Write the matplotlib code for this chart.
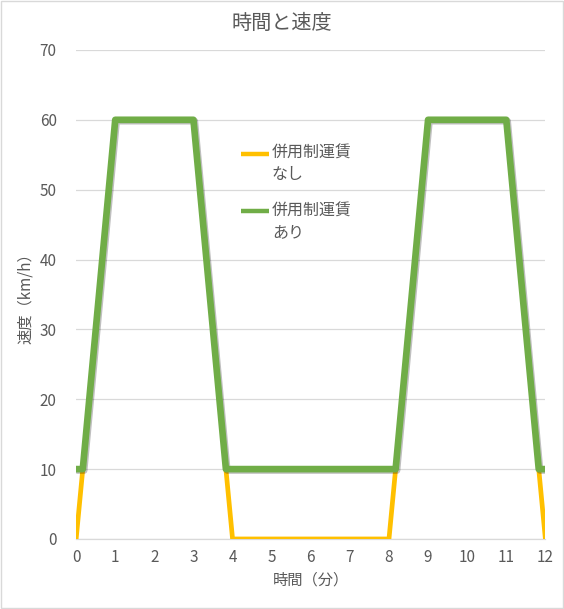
import matplotlib
matplotlib.use("Agg")
import matplotlib.pyplot as plt
from matplotlib.lines import Line2D
from matplotlib.patches import Rectangle
import matplotlib.patheffects as pe

plt.rcParams['font.family'] = ['Noto Sans CJK JP', 'DejaVu Sans']

title = "時間と速度"
xlabel = "時間（分）"
ylabel = "速度（km/h）"
series_names = ["併用制運賃\nなし", "併用制運賃\nあり"]

x_nashi = [0, 0.17, 1, 3, 3.83, 4, 8, 8.17, 9, 11, 11.83, 12]
y_nashi = [0, 10, 60, 60, 10, 0, 0, 10, 60, 60, 10, 0]

x_ari = [0, 0.17, 1, 3, 3.83, 8.17, 9, 11, 11.83, 12]
y_ari = [10, 10, 60, 60, 10, 10, 60, 60, 10, 10]

xticks = list(range(0, 13))
yticks = [0, 10, 20, 30, 40, 50, 60, 70]

c_yellow = "#FFC000"
c_green = "#70AD47"
txt = "#595959"
grid_c = "#D9D9D9"

fig = plt.figure(figsize=(5.64, 6.09), dpi=100)
fig.patches.append(Rectangle((0.002, 0.002), 0.996, 0.996, transform=fig.transFigure,
                             fill=False, edgecolor="#D9D9D9", linewidth=1.0))
ax = fig.add_axes([0.135, 0.115, 0.832, 0.803])

ax.plot(x_nashi, y_nashi, color=c_yellow, linewidth=3.4, solid_joinstyle='round',
        solid_capstyle='round', zorder=3)
ax.plot(x_ari, y_ari, color=c_green, linewidth=4.8, solid_joinstyle='round',
        solid_capstyle='round', zorder=4,
        path_effects=[pe.SimpleLineShadow(offset=(1, -1), shadow_color='#000000', alpha=0.25),
                      pe.Normal()])

ax.set_xlim(0, 12)
ax.set_ylim(0, 70)
ax.set_xticks(xticks)
ax.set_yticks(yticks)
ax.yaxis.grid(True, color=grid_c, linewidth=0.9)
ax.set_axisbelow(True)
for s in ['top', 'right', 'left']:
    ax.spines[s].set_visible(False)
ax.spines['bottom'].set_color(grid_c)
ax.spines['bottom'].set_linewidth(0.9)
ax.tick_params(axis='both', length=0, labelsize=11, labelcolor=txt)
ax.tick_params(axis='x', pad=7)
ax.tick_params(axis='y', pad=14)

ax.set_xlabel(xlabel, fontsize=11, color=txt, labelpad=4)
ax.set_ylabel(ylabel, fontsize=11, color=txt, labelpad=4)
fig.text(0.5, 0.961, title, ha='center', va='center', fontsize=14.5, color=txt)

# legend drawn manually (handle aligned with first text line)
leg_x0, leg_x1, leg_tx = 0.352, 0.412, 0.417
for name, col, yy in [(series_names[0], c_yellow, 0.788), (series_names[1], c_green, 0.670)]:
    ax.add_line(Line2D([leg_x0, leg_x1], [yy, yy], transform=ax.transAxes, color=col,
                       linewidth=3.2, solid_capstyle='butt'))
    ax.text(leg_tx, yy + 0.018, name, transform=ax.transAxes, ha='left', va='top',
            fontsize=11.5, color=txt, linespacing=1.35)

fig.savefig("out.png", dpi=100)
